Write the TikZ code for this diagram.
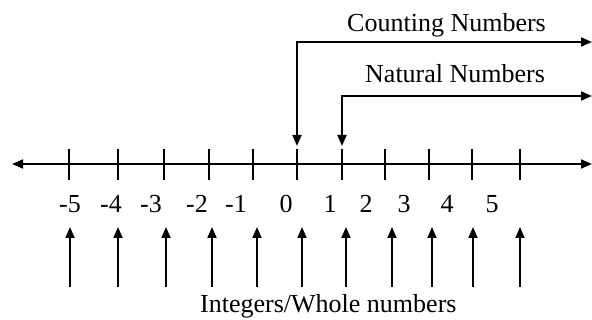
\documentclass[tikz,border=0pt]{standalone}
\usepackage{fontspec}
\setmainfont{Liberation Serif}
\usetikzlibrary{arrows.meta}
\begin{document}
\begin{tikzpicture}[x=1pt,y=-1pt,
  ln/.style={line width=1.9pt},
  tip/.style={-{Triangle[length=11pt,width=9pt]}},
  dtip/.style={{Triangle[length=11pt,width=9pt]}-{Triangle[length=11pt,width=9pt]}},
  lbl/.style={inner sep=0pt,anchor=base,font=\fontsize{26}{30}\selectfont},
  ttl/.style={inner sep=0pt,anchor=base west,font=\fontsize{26}{30}\selectfont}]
\useasboundingbox (0,0) rectangle (592,320);
% number line
\coordinate (L) at (12,164);
\coordinate (R) at (592,164);
\draw[ln,dtip] (L) -- (R);
% ticks
\foreach \n/\x in {m5/69,m4/118,m3/164,m2/209,m1/253,z0/297,p1/342,p2/385,p3/429,p4/472,p5/520}{
  \coordinate (t\n a) at (\x,149);
  \coordinate (t\n b) at (\x,180);
  \draw[ln] (t\n a) -- (t\n b);
}
% labels
\foreach \n/\x/\t in {m5/70/-5,m4/111/-4,m3/151/-3,m2/197/-2,m1/236/-1,z0/286/0,p1/330/1,p2/366/2,p3/404/3,p4/447/4,p5/492/5}{
  \node[lbl] (l\n) at (\x,213) {\t};
}
% up arrows
\foreach \n/\x in {m5/70,m4/118,m3/166,m2/212,m1/257,z0/302,p1/346,p2/392,p3/432,p4/473,p5/520}{
  \coordinate (u\n a) at (\x,287);
  \coordinate (u\n b) at (\x,227);
  \draw[ln,tip] (u\n a) -- (u\n b);
}
\node[ttl] (integ) at (200,313) {Integers/Whole numbers};
% counting numbers
\node[ttl] (count) at (347,32) {Counting Numbers};
\coordinate (c1) at (297,146);
\coordinate (c2) at (297,42);
\coordinate (c3) at (592,42);
\draw[ln,dtip] (c1) -- (c2) -- (c3);
% natural numbers
\node[ttl] (nat) at (365,83) {Natural Numbers};
\coordinate (n1) at (342,146);
\coordinate (n2) at (342,96);
\coordinate (n3) at (592,96);
\draw[ln,dtip] (n1) -- (n2) -- (n3);
\end{tikzpicture}
\end{document}
